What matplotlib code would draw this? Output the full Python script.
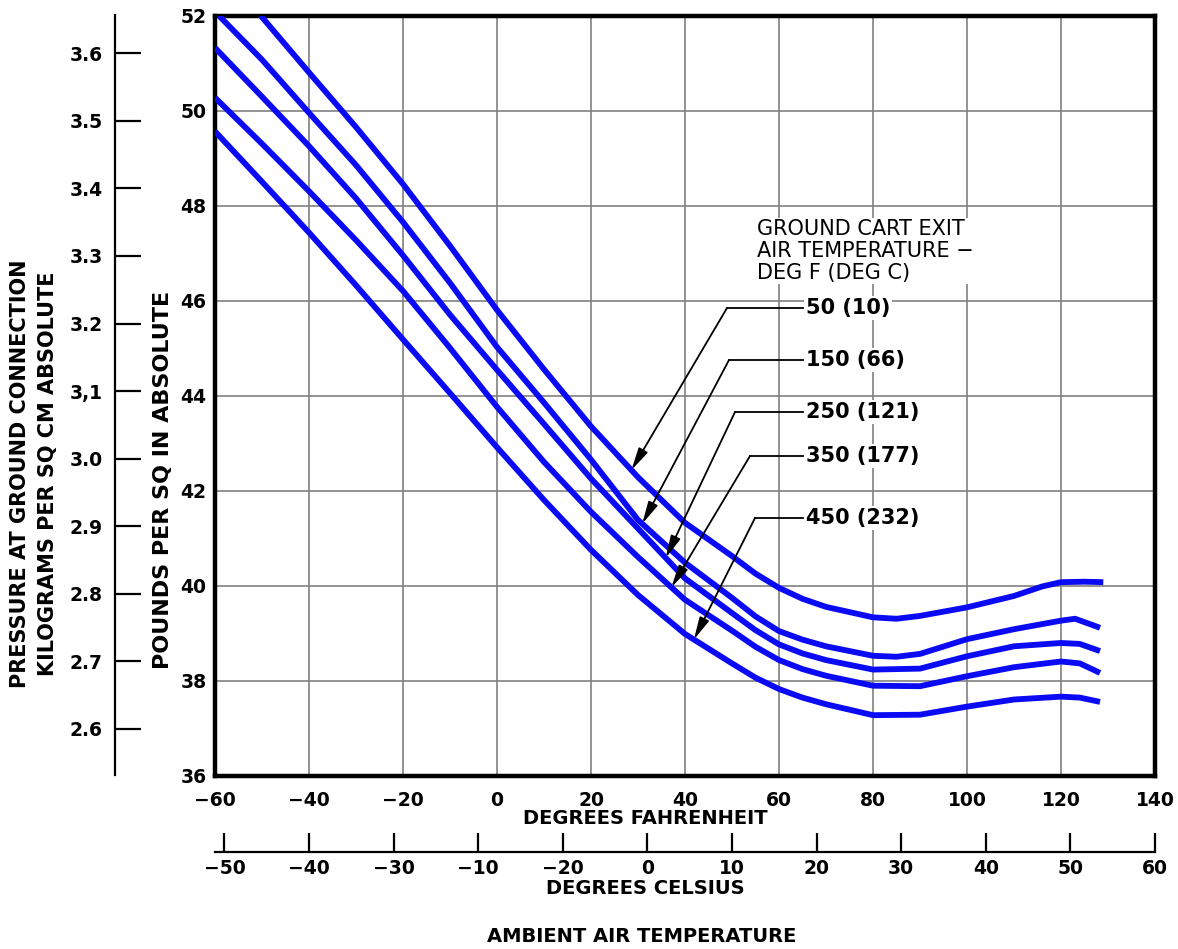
import matplotlib
matplotlib.use('Agg')
import matplotlib.pyplot as plt
from matplotlib import font_manager as fm
import numpy as np

# ---------------- data ----------------
exit_temp_labels = ['50 (10)', '150 (66)', '250 (121)', '350 (177)', '450 (232)']

c50_x = [-50.3, -40, -30, -20, -10, 0, 10, 20, 30, 40, 50, 55, 60, 65, 70, 80, 85, 90, 100, 110, 116, 120, 125, 129]
c50_y = [52.0, 50.8, 49.65, 48.45, 47.15, 45.8, 44.55, 43.35, 42.28, 41.32, 40.62, 40.25, 39.95, 39.72, 39.55, 39.33, 39.3, 39.36, 39.54, 39.78, 39.98, 40.07, 40.08, 40.07]

c150_x = [-59.2, -50, -40, -30, -20, -10, 0, 10, 20, 30, 40, 50, 55, 60, 65, 70, 80, 85, 90, 100, 110, 120, 123, 128.3]
c150_y = [52.0, 51.07, 49.95, 48.85, 47.65, 46.37, 45.02, 43.85, 42.65, 41.38, 40.48, 39.74, 39.35, 39.04, 38.86, 38.72, 38.52, 38.5, 38.56, 38.87, 39.08, 39.26, 39.3, 39.11]

c250_x = [-60, -50, -40, -30, -20, -10, 0, 10, 20, 30, 40, 50, 55, 60, 65, 70, 80, 90, 100, 110, 120, 124, 128.3]
c250_y = [51.32, 50.29, 49.25, 48.15, 46.95, 45.7, 44.54, 43.4, 42.25, 41.2, 40.15, 39.42, 39.06, 38.76, 38.57, 38.43, 38.23, 38.25, 38.51, 38.72, 38.79, 38.77, 38.62]

c350_x = [-60, -50, -40, -30, -20, -10, 0, 10, 20, 30, 40, 50, 55, 60, 65, 70, 80, 90, 100, 110, 120, 124, 128.3]
c350_y = [50.27, 49.3, 48.3, 47.27, 46.2, 45.0, 43.76, 42.6, 41.55, 40.6, 39.7, 39.05, 38.71, 38.43, 38.24, 38.1, 37.89, 37.88, 38.09, 38.28, 38.40, 38.36, 38.16]

c450_x = [-60, -50, -40, -30, -20, -10, 0, 10, 20, 30, 40, 50, 55, 60, 65, 70, 80, 90, 100, 110, 120, 124, 128.3]
c450_y = [49.56, 48.5, 47.43, 46.32, 45.18, 44.05, 42.91, 41.8, 40.75, 39.8, 38.98, 38.36, 38.06, 37.82, 37.64, 37.5, 37.27, 37.28, 37.45, 37.6, 37.66, 37.64, 37.55]

f_ticks = list(range(-60, 141, 20))
psi_ticks = list(range(36, 53, 2))
kg_ticks = [2.6, 2.7, 2.8, 2.9, 3.0, 3.1, 3.2, 3.3, 3.4, 3.5, 3.6]
kg_labels = ['2.6', '2.7', '2.8', '2.9', '3.0', '3,1', '3.2', '3.3', '3.4', '3.5', '3.6']
c_ticks = [-50, -40, -30, -20, -10, 0, 10, 20, 30, 40, 50, 60]
c_labels = ['\u221250', '\u221240', '\u221230', '\u221210', '\u221220', '0', '10', '20', '30', '40', '50', '60']

curves_x = [c50_x, c150_x, c250_x, c350_x, c450_x]
curves_y = [c50_y, c150_y, c250_y, c350_y, c450_y]

# ---------------- layout helpers ----------------
W, H = 1178, 949
L, R, T, B = 215.0, 1155.0, 15.5, 775.5
PSI2KG = 0.070307

def fpx(x, y):
    return x / W, 1 - y / H

def dx(px):
    return (px - L) / (R - L) * 200 - 60

def dy(py):
    return 52 - (py - T) / (B - T) * 16

plt.rcParams['font.family'] = ['DejaVu Sans']

fig = plt.figure(figsize=(W / 100, H / 100), dpi=100)
ax = fig.add_axes([L / W, 1 - B / H, (R - L) / W, (B - T) / H])
ax.set_xlim(-60, 140)
ax.set_ylim(36, 52)
ax.set_xticks(f_ticks)
ax.set_yticks(psi_ticks)
ax.set_xticklabels([str(v).replace('-', '\u2212') for v in f_ticks], fontsize=13.5, fontweight='bold')
ax.set_yticklabels([str(v) for v in psi_ticks], fontsize=13.5, fontweight='bold')
ax.tick_params(axis='x', length=0, pad=11)
ax.tick_params(axis='y', length=0, pad=6)
ax.grid(True, color='#808080', lw=1.2)
ax.set_axisbelow(True)
for s in ax.spines.values():
    s.set_linewidth(3.2)
    s.set_color('black')

for xs, ys in zip(curves_x, curves_y):
    ax.plot(xs, ys, color='#0a0af5', lw=4.2, solid_capstyle='butt',
            solid_joinstyle='round', zorder=3)

# ---------------- annotations ----------------
label_y_px = [308, 360, 412, 456, 518]
corner_x_px = [727, 729, 735, 750, 755]
tip_f = [28.6, 30.9, 35.9, 37.1, 41.9]
for lab, ly, cx, tf, xs, ys in zip(exit_temp_labels, label_y_px, corner_x_px, tip_f, curves_x, curves_y):
    yv = dy(ly)
    ax.plot([dx(cx), dx(803)], [yv, yv], color='black', lw=1.3, zorder=4)
    tip = (tf, float(np.interp(tf, xs, ys)))
    ax.annotate('', xy=tip, xytext=(dx(cx), yv),
                arrowprops=dict(arrowstyle='-|>,head_length=0.75,head_width=0.17',
                                mutation_scale=18, lw=1.3, color='black',
                                shrinkA=0, shrinkB=0), zorder=4)
    ax.text(dx(806), yv, lab, fontsize=15, fontweight='bold', ha='left', va='center',
            zorder=5, bbox=dict(facecolor='white', edgecolor='none', pad=1.5))

ax.text(dx(757), dy(219), 'GROUND CART EXIT\nAIR TEMPERATURE \u2212\nDEG F (DEG C)',
        fontsize=15, ha='left', va='top', linespacing=1.12, zorder=5,
        bbox=dict(facecolor='white', edgecolor='none', pad=1.0))

# ---------------- kg axis ----------------
axk = fig.add_axes([115 / W, 1 - B / H, 0.0005, (B - T) / H])
axk.set_ylim(36 * PSI2KG, 52 * PSI2KG)
axk.set_facecolor('none')
for k in ['right', 'top', 'bottom']:
    axk.spines[k].set_visible(False)
axk.spines['left'].set_linewidth(1.6)
axk.set_xticks([])
axk.set_yticks(kg_ticks)
axk.set_yticklabels(kg_labels, fontsize=13.5, fontweight='bold')
axk.tick_params(axis='y', direction='in', length=19, width=1.6, pad=9)

# ---------------- celsius axis ----------------
def f2c(f):
    return (np.asarray(f) - 32) * 5 / 9

def c2f(c):
    return np.asarray(c) * 9 / 5 + 32

sec = ax.secondary_xaxis(-(852 - B) / (B - T), functions=(f2c, c2f))
sec.set_xticks(c_ticks)
sec.set_xticklabels(c_labels, fontsize=13.5, fontweight='bold')
sec.tick_params(direction='in', length=14, width=1.6, pad=5)
sec.spines['bottom'].set_linewidth(1.6)

# ---------------- titles ----------------
fig.text(*fpx(645, 819), 'DEGREES FAHRENHEIT', fontsize=14, fontweight='bold',
         ha='center', va='center')
fig.text(*fpx(645, 889), 'DEGREES CELSIUS', fontsize=14, fontweight='bold',
         ha='center', va='center')
fig.text(*fpx(642, 936), 'AMBIENT AIR TEMPERATURE', fontsize=14, fontweight='bold',
         ha='center', va='center')

fig.text(*fpx(20, 474), 'PRESSURE AT GROUND CONNECTION', fontsize=15,
         fontweight='bold', rotation=90, ha='center', va='center')
fig.text(*fpx(48, 474), 'KILOGRAMS PER SQ CM ABSOLUTE', fontsize=15,
         fontweight='bold', rotation=90, ha='center', va='center')
fig.text(*fpx(163, 480), 'POUNDS PER SQ IN ABSOLUTE', fontsize=16,
         fontweight='bold', rotation=90, ha='center', va='center')

fig.savefig('out.png', dpi=100)
